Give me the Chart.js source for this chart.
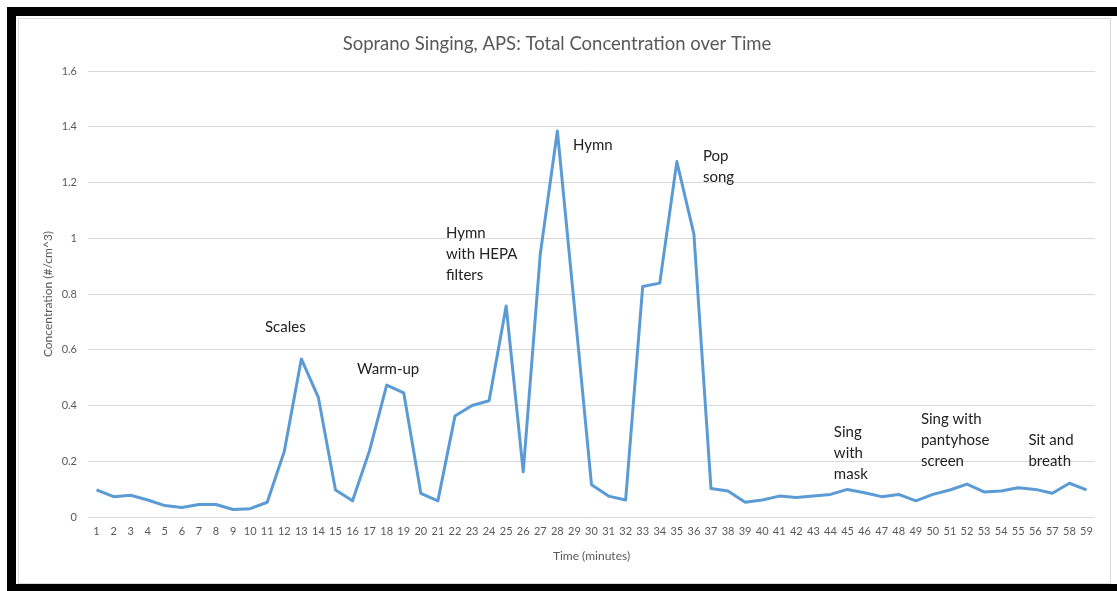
<!DOCTYPE html>
<html>
<head>
<meta charset="utf-8">
<script src="https://cdn.jsdelivr.net/npm/chart.js@4.4.1/dist/chart.umd.min.js"></script>
<style>
  body { margin: 0; background: #fff; }
  #frame {
    position: absolute; left: 7px; top: 7px; width: 1110px; height: 584px;
    box-sizing: border-box;
    border-top: 9px solid #000; border-left: 9px solid #000; border-bottom: 7px solid #000;
  }
  #card {
    position: absolute; left: 2px; top: 2px; width: 1093px; height: 566px;
    box-sizing: border-box; border: 1px solid #d9d9d9; background: #fff;
  }
  #wrap { position: absolute; left: 0; top: 0; width: 1091px; height: 564px; }
</style>
</head>
<body>
<div id="frame"><div id="card"><div id="wrap"><canvas id="myChart"></canvas></div></div></div>
<script>
// minutes on the x axis
const minutes = ["1", "2", "3", "4", "5", "6", "7", "8", "9", "10",
  "11", "12", "13", "14", "15", "16", "17", "18", "19", "20",
  "21", "22", "23", "24", "25", "26", "27", "28", "29", "30",
  "31", "32", "33", "34", "35", "36", "37", "38", "39", "40",
  "41", "42", "43", "44", "45", "46", "47", "48", "49", "50",
  "51", "52", "53", "54", "55", "56", "57", "58", "59"];

// total concentration (#/cm^3)
const concentration = [0.097, 0.073, 0.078, 0.061, 0.041, 0.034, 0.045, 0.045, 0.027, 0.030,
  0.053, 0.235, 0.567, 0.428, 0.097, 0.058, 0.239, 0.473, 0.445, 0.085,
  0.058, 0.362, 0.400, 0.417, 0.757, 0.162, 0.944, 1.385, 0.754, 0.116,
  0.075, 0.061, 0.827, 0.839, 1.275, 1.015, 0.102, 0.093, 0.053, 0.061,
  0.075, 0.070, 0.075, 0.081, 0.099, 0.087, 0.073, 0.081, 0.058, 0.081,
  0.097, 0.118, 0.090, 0.093, 0.105, 0.099, 0.085, 0.121, 0.097];

// y tick labels
const yTicks = [0, 0.2, 0.4, 0.6, 0.8, 1, 1.2, 1.4, 1.6];

// text notes: minute index (0 based) and value where the first line sits
const noteText = [["Scales"], ["Warm-up"], ["Hymn", "with HEPA", "filters"], ["Hymn"],
  ["Pop", "song"], ["Sing", "with", "mask"], ["Sing with", "pantyhose", "screen"], ["Sit and", "breath"]];
const noteAt = [9.87, 15.26, 20.47, 27.91, 35.53, 43.2, 48.3, 54.6];
const noteValue = [0.682, 0.532, 1.019, 1.335, 1.296, 0.306, 0.352, 0.277];

const font = "Lato";

// plugin - draws the activity notes
const notesPlugin = {
  id: "notes",
  afterDatasetsDraw(chart) {
    const ctx = chart.ctx;
    const xs = chart.scales.x;
    const ys = chart.scales.y;
    ctx.save();
    ctx.font = "15px " + font;
    ctx.fillStyle = "#222";
    ctx.textAlign = "left";
    ctx.textBaseline = "middle";
    noteText.forEach((lines, i) => {
      const x = xs.getPixelForValue(noteAt[i]);
      const y = ys.getPixelForValue(noteValue[i]);
      lines.forEach((t, j) => ctx.fillText(t, x, y + j * 21));
    });
    ctx.restore();
  },
};

// setup block
const data = {
  labels: minutes,
  datasets: [
    {
      label: "Total Concentration",
      data: concentration,
      borderColor: "#5b9bd5",
      backgroundColor: "#5b9bd5",
      borderWidth: 3,
      borderJoinStyle: "round",
      pointRadius: 0,
      tension: 0,
    },
  ],
};

// config block
const config = {
  type: "line",
  data: data,
  options: {
    responsive: true,
    maintainAspectRatio: false,
    animation: false,
    layout: { padding: { left: 0, right: 15, top: 0, bottom: 0 } },
    plugins: {
      legend: { display: false },
      tooltip: { enabled: false },
      title: {
        display: true,
        text: "Soprano Singing, APS: Total Concentration over Time",
        color: "#595959",
        font: { family: font, size: 18.5, weight: "normal" },
        padding: { top: 13.9, bottom: 15.9 },
      },
    },
    scales: {
      x: {
        offset: true,
        grid: { display: false, drawTicks: false },
        border: { display: false },
        ticks: {
          autoSkip: false,
          maxRotation: 0,
          minRotation: 0,
          padding: 8,
          color: "#595959",
          font: { family: font, size: 11 },
        },
        title: {
          display: true,
          text: "Time (minutes)",
          color: "#595959",
          font: { family: font, size: 12 },
          padding: { top: 0, bottom: 19.8 },
        },
        afterFit: (s) => { s.height = 66; },
      },
      y: {
        min: 0,
        max: 1.6,
        afterBuildTicks: (s) => { s.ticks = yTicks.map((v) => ({ value: v })); },
        grid: { color: "#d9d9d9", lineWidth: 1, drawTicks: false },
        border: { display: false },
        ticks: {
          padding: 11,
          color: "#595959",
          font: { family: font, size: 11 },
          callback: (v) => String(v),
        },
        title: {
          display: true,
          text: "Concentration (#/cm^3)",
          color: "#595959",
          font: { family: font, size: 12 },
          padding: { top: 21.8, bottom: 0 },
        },
        afterFit: (s) => { s.width = 69; },
      },
    },
  },
  plugins: [notesPlugin],
};

// render init block
const myChart = new Chart(document.getElementById("myChart"), config);
</script>
</body>
</html>
